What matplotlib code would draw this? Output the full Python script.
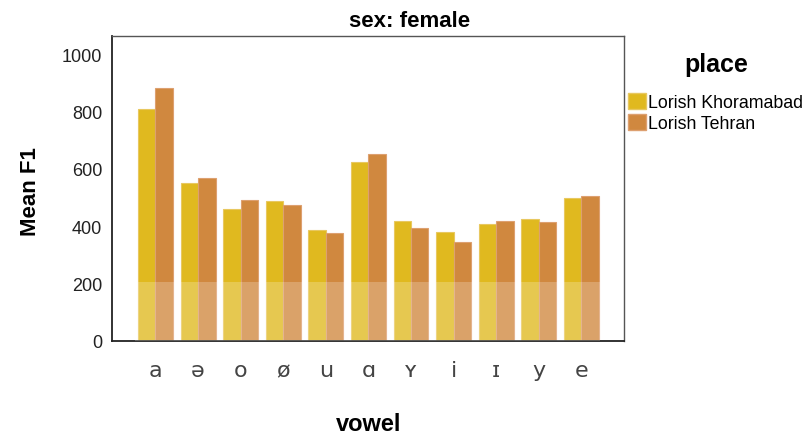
import matplotlib
matplotlib.use("Agg")
import matplotlib.pyplot as plt
import numpy as np
from matplotlib.patches import Patch

vowels = ["a", "ə", "o", "ø", "u", "ɑ", "ʏ", "i", "ɪ", "y", "e"]
places = ["Lorish Khoramabad", "Lorish Tehran"]
khoramabad = [808, 550, 460, 488, 388, 624, 418, 379, 409, 425, 498]
tehran = [881, 568, 491, 474, 375, 652, 394, 346, 419, 416, 505]
yticks = [0, 200, 400, 600, 800, 1000]

plt.rcParams["font.family"] = ["Liberation Sans", "DejaVu Sans"]

colors = ["#E0B91F", "#D0883F"]
edges = ["#E8C860", "#DDA070"]

fig = plt.figure(figsize=(8.07, 4.35), dpi=100)
ax = fig.add_axes([0.1388, 0.2138, 0.6344, 0.701])

x = np.arange(len(vowels))
w = 0.41
ax.bar(x - w / 2, khoramabad, width=w, color=colors[0], edgecolor=edges[0], linewidth=0.8)
ax.bar(x + w / 2, tehran, width=w, color=colors[1], edgecolor=edges[1], linewidth=0.8)

# light overlay band on lower part (watermark effect)
ax.axhspan(0, 205, xmin=0.045, xmax=0.953, color="white", alpha=0.22, linewidth=0, zorder=3)

ax.set_xlim(-1.02, 11.0)
ax.set_ylim(0, 1063)
ax.set_yticks(yticks)
ax.set_yticklabels([str(v) for v in yticks], fontsize=13, color="#222222")
ax.set_xticks(x)
ax.set_xticklabels(vowels, fontsize=16, color="#444444", family="DejaVu Sans")
ax.tick_params(axis="both", length=0)
ax.tick_params(axis="y", pad=7)
ax.tick_params(axis="x", pad=14)

for s in ["left", "bottom"]:
    ax.spines[s].set_color("#222222")
    ax.spines[s].set_linewidth(1.3)
for s in ["top", "right"]:
    ax.spines[s].set_color("#555555")
    ax.spines[s].set_linewidth(1.0)

fig.text(0.508, 0.937, "sex: female", fontsize=16, fontweight="bold", ha="center", va="baseline")
fig.text(0.038, 0.56, "Mean F1", rotation=90, fontsize=16, fontweight="bold",
         ha="center", va="center")
fig.text(0.457, 0.025, "vowel", fontsize=17, fontweight="bold", ha="center", va="center")
fig.text(0.887, 0.85, "place", fontsize=18, fontweight="bold", ha="center", va="center")

handles = [Patch(facecolor=colors[0], edgecolor=edges[0]), Patch(facecolor=colors[1], edgecolor=edges[1])]
fig.legend(handles, places, loc="upper left", bbox_to_anchor=(0.778, 0.783), frameon=False,
           fontsize=12.8, handlelength=1.0, handleheight=1.0, handletextpad=0.12,
           labelspacing=0.15, borderaxespad=0, borderpad=0)

fig.savefig("out.png", dpi=100)
